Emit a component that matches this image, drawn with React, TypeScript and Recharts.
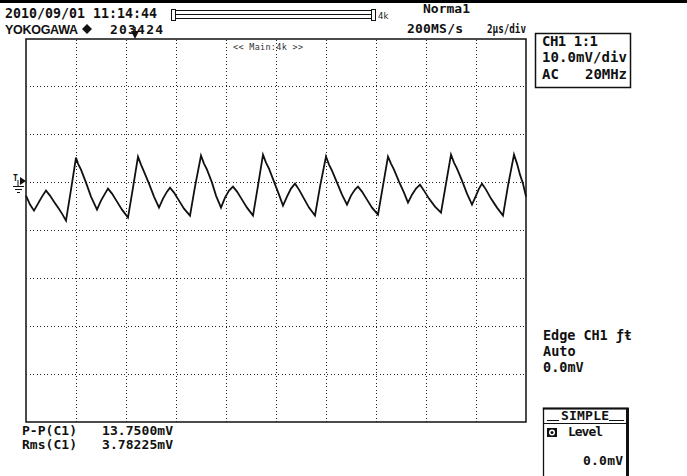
import { LineChart, Line, XAxis, YAxis, ReferenceLine, ReferenceArea } from 'recharts';

// time in µs (2 µs/div), CH1 voltage in mV (10 mV/div)
const timeUs = [
  0.0, 0.16, 0.32, 0.48, 0.64, 0.8, 0.96, 1.12, 1.28, 1.44, 1.6, 1.8,
  2.0, 2.08, 2.2, 2.4, 2.6, 2.84, 3.0, 3.16, 3.28, 3.44, 3.64, 3.84, 4.08, 4.28,
  4.48, 4.6, 4.72, 4.92, 5.12, 5.32, 5.48, 5.64, 5.76, 5.92, 6.12, 6.32, 6.56, 6.76,
  7.0, 7.12, 7.24, 7.44, 7.6, 7.8, 7.96, 8.12, 8.28, 8.44, 8.64, 8.84, 9.08, 9.28,
  9.48, 9.6, 9.72, 9.92, 10.12, 10.28, 10.44, 10.6, 10.76, 10.92, 11.12, 11.32, 11.56, 11.76,
  12.0, 12.12, 12.24, 12.44, 12.64, 12.84, 13.0, 13.16, 13.28, 13.44, 13.64, 13.84, 14.08, 14.28,
  14.48, 14.6, 14.72, 14.92, 15.12, 15.28, 15.44, 15.6, 15.76, 15.92, 16.12, 16.36, 16.6, 16.8,
  17.0, 17.12, 17.24, 17.44, 17.64, 17.84, 18.0, 18.12, 18.24, 18.4, 18.6, 18.84, 19.08, 19.28,
  19.52, 19.64, 19.76, 19.88, 20.0,
];
const ch1mV = [
  -2.71, -4.59, -5.85, -4.38, -2.92, -1.67, -2.71, -3.97, -5.22, -6.47, -7.93, -1.46,
  5.22, 3.97, 2.71, 0.0, -2.92, -5.64, -3.76, -2.3, -1.25, -2.3, -3.97, -5.64, -7.31, -1.04,
  5.43, 3.76, 2.3, -0.21, -2.92, -5.22, -3.34, -1.88, -1.04, -2.09, -3.76, -5.43, -6.89, -0.84,
  5.64, 3.97, 2.71, 0.0, -2.71, -5.22, -3.13, -1.67, -0.84, -1.88, -3.55, -5.22, -6.89, -0.63,
  5.85, 4.18, 2.92, 0.21, -2.51, -4.8, -2.92, -1.25, -0.21, -1.46, -3.34, -5.22, -6.89, -0.84,
  5.43, 3.76, 2.51, 0.0, -2.51, -4.59, -2.71, -1.46, -0.84, -1.88, -3.55, -5.22, -6.68, -0.63,
  5.43, 3.97, 2.71, 0.21, -2.09, -4.18, -2.51, -1.25, -0.42, -1.67, -3.34, -5.01, -6.26, -0.21,
  5.85, 4.18, 2.92, 0.42, -2.3, -4.59, -2.71, -1.25, -0.21, -1.46, -3.34, -5.22, -6.89, -0.63,
  5.85, 3.97, 1.67, -0.21, -2.92,
];

const timeGrid = [2, 4, 6, 8, 10, 12, 14, 16, 18];
const voltGrid = [-40, -30, -20, -10, 0, 10, 20];

const data = timeUs.map((t, i) => ({ t, v: ch1mV[i] }));

const mono = '"DejaVu Sans Mono", monospace';

export default function App() {
  return (
    <div style={{ position: 'absolute', left: 0, top: 0, width: 687, height: 476, background: '#fff', overflow: 'hidden' }}>
      <LineChart
        width={687}
        height={476}
        data={data}
        margin={{ top: 39, right: 161, bottom: 54, left: 26 }}
      >
        <XAxis type="number" dataKey="t" domain={[0, 20]} hide />
        <YAxis type="number" domain={[-50, 30]} hide />
        {timeGrid.map((x) => (
          <ReferenceLine key={'x' + x} x={x} stroke="#222" strokeDasharray="1 2.5" shapeRendering="crispEdges" />
        ))}
        {voltGrid.map((y) => (
          <ReferenceLine key={'y' + y} y={y} stroke="#222" strokeDasharray="1 2.5" shapeRendering="crispEdges" />
        ))}
        <ReferenceArea x1={0} x2={20} y1={-50} y2={30} fill="none" stroke="#111" strokeWidth={1.5} ifOverflow="visible" />
        <Line
          type="linear"
          dataKey="v"
          stroke="#111"
          strokeWidth={1.8}
          dot={false}
          isAnimationActive={false}
        />
      </LineChart>

      <svg width={687} height={476} style={{ position: 'absolute', left: 0, top: 0, pointerEvents: 'none' }}>
        <rect x={0} y={0} width={687} height={3} fill="#000" />

        <g fontFamily={mono} fontWeight="bold" fill="#111">
          <text x={5} y={18} fontSize={13.3} textLength={152}>2010/09/01 11:14:44</text>
          <text x={110} y={34} fontSize={13} textLength={53}>203424</text>
          <text x={423} y={13} fontSize={13} textLength={47}>Norma1</text>
          <text x={407} y={33} fontSize={13} textLength={56}>200MS/s</text>
          <text x={487} y={33} fontSize={12} textLength={39} lengthAdjust="spacingAndGlyphs">2µs/div</text>

          <text x={542} y={46} fontSize={14} textLength={56}>CH1 1:1</text>
          <text x={542} y={62} fontSize={14} textLength={85}>10.0mV/div</text>
          <text x={542} y={79} fontSize={14}>AC</text>
          <text x={585} y={79} fontSize={14} textLength={42}>20MHz</text>

          <text x={543} y={340} fontSize={13.5} textLength={89}>Edge CH1 ƒŧ</text>
          <text x={543} y={356} fontSize={13.5}>Auto</text>
          <text x={543} y={372} fontSize={13.5}>0.0mV</text>

          <text x={22} y={435} fontSize={13} textLength={55}>P-P(C1)</text>
          <text x={102} y={435} fontSize={13} textLength={71}>13.7500mV</text>
          <text x={22} y={449} fontSize={13} textLength={55}>Rms(C1)</text>
          <text x={102} y={449} fontSize={13} textLength={71}>3.78225mV</text>

          <text x={561} y={420} fontSize={13} textLength={48}>SIMPLE</text>
          <text x={568} y={436} fontSize={13} textLength={35}>Level</text>
          <text x={583} y={465} fontSize={13} textLength={40}>0.0mV</text>
        </g>

        <text x={5} y={34} fontFamily='"Liberation Sans", Arial, sans-serif' fontWeight="bold" fontSize={12.5} textLength={73} fill="#111">YOKOGAWA</text>
        <polygon points="87,24 92,29 87,34 82,29" fill="#111" />

        {/* trigger position marker */}
        <line x1={135} y1={27} x2={135} y2={32} stroke="#111" strokeWidth={1.5} />
        <polygon points="131,31 139,31 135,39" fill="#111" />

        {/* zoom bar */}
        <rect x={171.5} y={9.5} width={4} height={11} fill="none" stroke="#111" />
        <rect x={175.5} y={10.5} width={196} height={8} fill="none" stroke="#111" />
        <line x1={176} y1={14.5} x2={371} y2={14.5} stroke="#111" />
        <rect x={371.5} y={9.5} width={4} height={11} fill="none" stroke="#111" />
        <text x={378} y={19} fontFamily='"DejaVu Sans", sans-serif' fontSize={8.5} fill="#222">4k</text>

        <text x={233} y={50} fontFamily={mono} fontSize={8.5} fill="#333" textLength={70}>{'<< Main:4k >>'}</text>

        {/* CH1 box */}
        <rect x={535.5} y={33.5} width={95} height={54} fill="none" stroke="#111" strokeWidth={1.5} />

        {/* SIMPLE box */}
        <rect x={543.5} y={408.5} width={84} height={80} fill="none" stroke="#111" strokeWidth={1.3} />
        <rect x={542.8} y={407.5} width={86} height={2} fill="#111" />
        <rect x={626} y={408} width={3} height={70} fill="#111" />
        <line x1={547} y1={420.5} x2={559} y2={420.5} stroke="#111" />
        <line x1={609} y1={420.5} x2={624} y2={420.5} stroke="#111" />
        <line x1={544} y1={423.5} x2={626} y2={423.5} stroke="#111" strokeWidth={1.2} />
        <rect x={547} y={428} width={10} height={9} fill="#111" />
        <circle cx={552} cy={432.5} r={3} fill="#fff" />
        <circle cx={552} cy={432.5} r={1.5} fill="#111" />

        {/* trigger level / ground marker */}
        <text x={13} y={181} fontFamily={mono} fontWeight="bold" fontSize={8} fill="#111">T</text>
        <polygon points="20,177 26,181 20,185" fill="#111" />
        <line x1={18} y1={180} x2={18} y2={186} stroke="#111" />
        <line x1={13} y1={186.5} x2={24} y2={186.5} stroke="#111" />
        <line x1={15} y1={189.5} x2={22} y2={189.5} stroke="#111" />
        <line x1={17} y1={192.5} x2={20} y2={192.5} stroke="#111" />
      </svg>
    </div>
  );
}
